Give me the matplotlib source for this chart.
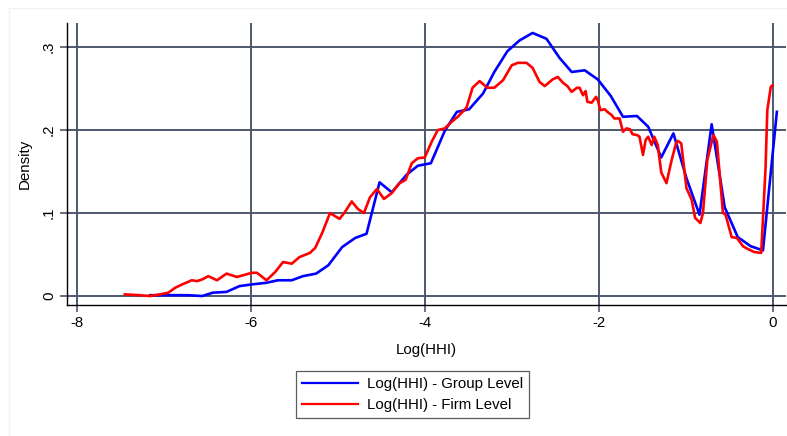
import matplotlib.pyplot as plt
from matplotlib.patches import Rectangle

plt.rcParams['font.family'] = ['Liberation Sans', 'DejaVu Sans']

# Log(HHI) - Group Level (kernel density)
group_x = [-7.16, -6.72, -6.56, -6.44, -6.28, -6.13, -5.99, -5.82, -5.69, -5.53,
           -5.40, -5.25, -5.11, -4.95, -4.80, -4.67, -4.52, -4.38, -4.21, -4.08,
           -3.93, -3.77, -3.63, -3.49, -3.33, -3.20, -3.05, -2.91, -2.76, -2.60,
           -2.45, -2.31, -2.16, -2.01, -1.86, -1.72, -1.56, -1.43, -1.28, -1.14,
           -0.99, -0.84, -0.70, -0.55, -0.40, -0.25, -0.11, 0.05]
group_y = [0.001, 0.001, 0.000, 0.004, 0.005, 0.012, 0.014, 0.016, 0.019, 0.019,
           0.024, 0.027, 0.037, 0.059, 0.070, 0.075, 0.137, 0.125, 0.146, 0.157,
           0.160, 0.199, 0.222, 0.225, 0.244, 0.270, 0.295, 0.308, 0.317, 0.310,
           0.287, 0.270, 0.272, 0.261, 0.241, 0.216, 0.217, 0.204, 0.167, 0.196,
           0.142, 0.098, 0.207, 0.107, 0.071, 0.060, 0.055, 0.222]

# Log(HHI) - Firm Level
firm_x = [-7.45, -7.28, -7.16, -7.05, -6.95, -6.87, -6.79, -6.68, -6.62, -6.56,
          -6.49, -6.39, -6.28, -6.16, -6.09, -5.99, -5.93, -5.82, -5.72, -5.63,
          -5.53, -5.44, -5.32, -5.26, -5.18, -5.09, -4.98, -4.92, -4.84, -4.77,
          -4.70, -4.63, -4.55, -4.47, -4.38, -4.29, -4.22, -4.15, -4.08, -4.00,
          -3.92, -3.85, -3.77, -3.69, -3.62, -3.52, -3.45, -3.37, -3.28, -3.20,
          -3.10, -3.00, -2.93, -2.83, -2.76, -2.68, -2.62, -2.53, -2.47, -2.41,
          -2.36, -2.31, -2.25, -2.22, -2.18, -2.15, -2.13, -2.08, -2.03, -2.01,
          -1.98, -1.93, -1.90, -1.85, -1.82, -1.76, -1.72, -1.68, -1.64, -1.61,
          -1.56, -1.53, -1.49, -1.46, -1.43, -1.39, -1.36, -1.32, -1.28, -1.22,
          -1.16, -1.11, -1.09, -1.05, -0.99, -0.93, -0.89, -0.83, -0.80, -0.75,
          -0.68, -0.64, -0.57, -0.54, -0.47, -0.41, -0.34, -0.29, -0.21, -0.13,
          -0.08, -0.06, -0.02, 0.00]
firm_y = [0.002, 0.001, 0.000, 0.002, 0.004, 0.010, 0.014, 0.019, 0.018, 0.020,
          0.024, 0.019, 0.027, 0.023, 0.025, 0.028, 0.028, 0.019, 0.029, 0.041,
          0.039, 0.047, 0.052, 0.058, 0.076, 0.100, 0.093, 0.101, 0.114, 0.105,
          0.100, 0.119, 0.129, 0.117, 0.124, 0.136, 0.140, 0.160, 0.166, 0.167,
          0.186, 0.200, 0.202, 0.210, 0.216, 0.227, 0.251, 0.259, 0.251, 0.251,
          0.260, 0.278, 0.281, 0.281, 0.275, 0.258, 0.253, 0.261, 0.264, 0.257,
          0.253, 0.246, 0.251, 0.251, 0.242, 0.247, 0.234, 0.233, 0.240, 0.236,
          0.224, 0.225, 0.222, 0.218, 0.214, 0.214, 0.198, 0.202, 0.201, 0.195,
          0.194, 0.192, 0.170, 0.188, 0.192, 0.182, 0.192, 0.182, 0.149, 0.136,
          0.164, 0.184, 0.187, 0.184, 0.130, 0.116, 0.094, 0.088, 0.100, 0.164,
          0.194, 0.186, 0.100, 0.098, 0.071, 0.070, 0.060, 0.057, 0.053, 0.052,
          0.155, 0.224, 0.252, 0.254]

x_ticks = [-8, -6, -4, -2, 0]
x_labels = ['-8', '-6', '-4', '-2', '0']
y_ticks = [0, 0.1, 0.2, 0.3]
y_labels = ['0', '.1', '.2', '.3']

grid_col = '#4e586c'
fs = 10.8

fig = plt.figure(figsize=(7.87, 4.36), dpi=100)
# faint outer graph-region outline
fig.patches.append(Rectangle((9 / 787, -0.1), 1.2, (436 - 8) / 436 + 0.1,
                             transform=fig.transFigure, fill=False,
                             edgecolor='#eef2f2', linewidth=1))

ax = fig.add_axes([67 / 787, 131 / 436, 719 / 787, 282 / 436])
ax.plot(group_x, group_y, color='#0000ff', linewidth=1.9, label='Log(HHI) - Group Level', zorder=3)
ax.plot(firm_x, firm_y, color='#ff0000', linewidth=1.9, label='Log(HHI) - Firm Level', zorder=4)

ax.set_xlim(-8.115, 0.155)
ax.set_ylim(-0.0108, 0.329)
ax.set_xticks(x_ticks)
ax.set_xticklabels(x_labels)
ax.set_yticks(y_ticks)
ax.set_yticklabels(y_labels, rotation=90, va='center')
ax.grid(True, color=grid_col, linewidth=1.4)
ax.set_axisbelow(True)
ax.tick_params(axis='both', direction='out', length=5, width=1.2, color=grid_col,
               labelsize=fs, pad=3)
for s in ['top', 'right']:
    ax.spines[s].set_visible(False)
for s in ['left', 'bottom']:
    ax.spines[s].set_color('black')
    ax.spines[s].set_linewidth(1.0)

ax.set_xlabel('Log(HHI)', fontsize=fs, labelpad=9)
ax.set_ylabel('Density', fontsize=fs, labelpad=7)

leg = fig.legend(loc='center', bbox_to_anchor=(412.5 / 787, (436 - 394.5) / 436),
                 fontsize=fs, frameon=True, fancybox=False, handlelength=3.7,
                 handletextpad=0.6, labelspacing=0.45, borderpad=0.4)
leg.get_frame().set_edgecolor('#333333')
leg.get_frame().set_linewidth(0.9)
for h in leg.get_lines():
    h.set_linewidth(1.6)

fig.savefig('out.png', dpi=100)
